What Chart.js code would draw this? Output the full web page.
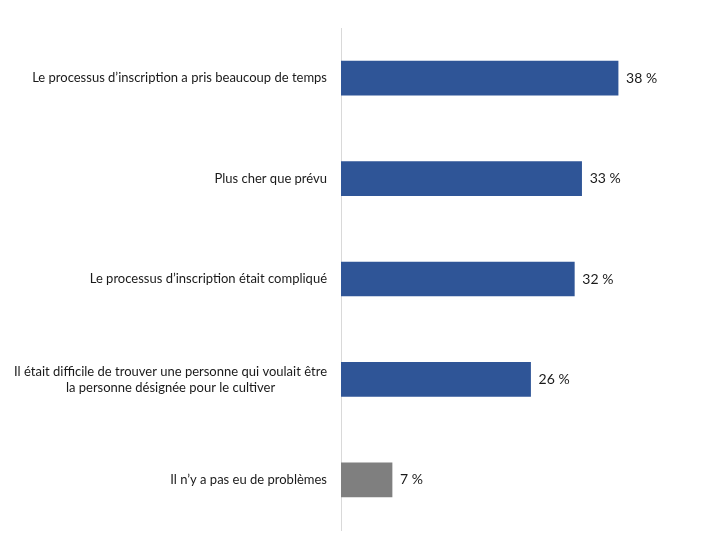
<!DOCTYPE html>
<html><head><meta charset="utf-8">
<script src="https://cdn.jsdelivr.net/npm/chart.js@4/dist/chart.umd.min.js"></script>
<style>html,body{margin:0;padding:0;background:#fff}#wrap{width:720px;height:540px}</style>
</head><body><div id="wrap"><canvas id="c" width="720" height="540"></canvas></div>
<script>
const categories = [
  ["Le processus d\u2019inscription a pris beaucoup de temps"],
  ["Plus cher que pr\u00e9vu"],
  ["Le processus d\u2019inscription \u00e9tait compliqu\u00e9"],
  ["Il \u00e9tait difficile de trouver une personne qui voulait \u00eatre", "la personne d\u00e9sign\u00e9e pour le cultiver"],
  ["Il n\u2019y a pas eu de probl\u00e8mes"]
];
const values = [38, 33, 32, 26, 7];
const barColors = ["#2F5597", "#2F5597", "#2F5597", "#2F5597", "#7F7F7F"];

const FONT = "Lato, 'Open Sans', sans-serif";

const labelPlugin = {
  id: 'customLabels',
  afterDatasetsDraw(chart) {
    const ctx = chart.ctx;
    const meta = chart.getDatasetMeta(0);
    const yScale = chart.scales.y;
    ctx.save();
    ctx.fillStyle = '#1a1a1a';
    ctx.textBaseline = 'middle';
    // value labels
    ctx.font = '14px ' + FONT;
    meta.data.forEach((bar, i) => {
      ctx.textAlign = 'left';
      ctx.fillText(values[i] + ' %', bar.x + 8, bar.y);
    });
    // category labels
    ctx.font = '13px ' + FONT;
    const rightX = chart.chartArea.left - 14;
    const lh = 16;
    categories.forEach((lines, i) => {
      const cy = yScale.getPixelForValue(i);
      const widths = lines.map(l => ctx.measureText(l).width);
      const maxW = Math.max(...widths);
      const startY = cy - (lines.length - 1) * lh / 2;
      lines.forEach((l, j) => {
        ctx.textAlign = 'center';
        ctx.fillText(l, rightX - maxW / 2, startY + j * lh);
      });
    });
    ctx.restore();
  }
};

new Chart(document.getElementById('c'), {
  type: 'bar',
  data: {
    labels: categories.map(c => c.join(' ')),
    datasets: [{
      data: values,
      backgroundColor: barColors,
      borderWidth: 0,
      barThickness: 34
    }]
  },
  options: {
    indexAxis: 'y',
    responsive: false,
    animation: false,
    layout: { padding: { top: 28, bottom: 10, left: 0, right: 29 } },
    plugins: { legend: { display: false }, tooltip: { enabled: false } },
    scales: {
      x: { display: false, min: 0, max: 48 },
      y: {
        grid: { display: false, drawTicks: false },
        border: { display: true, color: '#d9d9d9', width: 1 },
        ticks: { display: false },
        afterFit(scale) { scale.width = 341; }
      }
    }
  },
  plugins: [labelPlugin]
});
</script></body></html>
